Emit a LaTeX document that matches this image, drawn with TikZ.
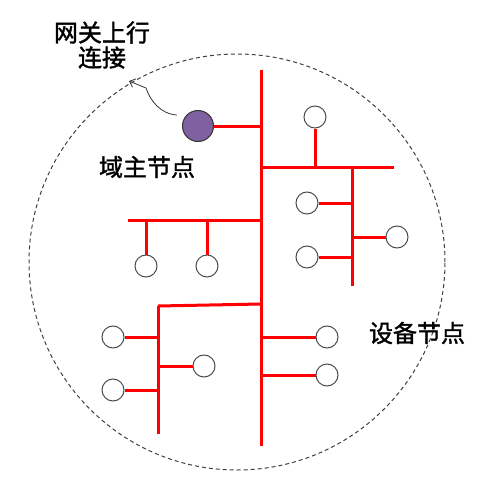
\documentclass[tikz,border=0pt]{standalone}
\usepackage{fontspec}
\newfontfamily\cjk[FakeBold=1.5]{Noto Sans CJK SC}
\usetikzlibrary{arrows.meta}
\definecolor{purp}{RGB}{127,96,160}
\begin{document}
\begin{tikzpicture}[x=1pt,y=-1pt,
  dev/.style={circle,draw=black!70,fill=white,line width=1pt,minimum size=22pt,inner sep=0pt},
  bus/.style={red,line width=3pt},
  lbl/.style={font=\cjk\fontsize{24}{25}\selectfont,align=center,inner sep=0pt}]
\useasboundingbox (0,0) rectangle (504,479);
\draw[black!75,line width=1pt,dash pattern=on 4pt off 3pt] (237,262) circle (208pt);
% nodes
\node[dev,fill=purp,draw=black!80,minimum size=31pt] (m) at (198,126) {};
\node[dev] (d1) at (315,117) {};
\node[dev] (d2) at (307,203) {};
\node[dev] (d3) at (397,237) {};
\node[dev] (d4) at (307,257) {};
\node[dev] (d5) at (146,266) {};
\node[dev] (d6) at (207,266) {};
\node[dev] (d7) at (113,337) {};
\node[dev] (d8) at (113,390) {};
\node[dev] (d9) at (204,366) {};
\node[dev] (d10) at (327,337) {};
\node[dev] (d11) at (327,375) {};
% junction coordinates
\coordinate (ttop) at (261,70);
\coordinate (tbot) at (261,446);
\coordinate (b1s) at (261,167);
\coordinate (b1e) at (394,167);
\coordinate (s1t) at (352,167);
\coordinate (s1b) at (352,286);
\coordinate (b2s) at (128,220);
\coordinate (b2e) at (261,220);
\coordinate (b3s) at (158,306);
\coordinate (b3e) at (261,304);
\coordinate (s3b) at (158,434);
% red tree
\draw[bus] (ttop) -- (tbot);
\draw[bus] (m) -- (ttop |- m);
\draw[bus] (b1s) -- (b1e);
\draw[bus] (d1) -- (d1 |- b1s);
\draw[bus] (s1t) -- (s1b);
\draw[bus] (d2) -- (s1t |- d2);
\draw[bus] (d3) -- (s1t |- d3);
\draw[bus] (d4) -- (s1t |- d4);
\draw[bus] (b2s) -- (b2e);
\draw[bus] (d5) -- (d5 |- b2s);
\draw[bus] (d6) -- (d6 |- b2s);
\draw[bus] (b3s) -- (b3e);
\draw[bus] (b3s) -- (s3b);
\draw[bus] (d7) -- (b3s |- d7);
\draw[bus] (d8) -- (b3s |- d8);
\draw[bus] (d9) -- (b3s |- d9);
\draw[bus] (d10) -- (ttop |- d10);
\draw[bus] (d11) -- (ttop |- d11);
% labels
\node[lbl] (gw) at (102,45) {网关上行\\连接};
\node[lbl] (ml) at (147,167) {域主节点};
\node[lbl] (dl) at (417,333) {设备节点};
% curved arrow
\coordinate (a0) at (177,115);
\coordinate (a1) at (129,81);
\draw[black!80,line width=0.8pt,-{Straight Barb[length=5pt,width=9pt]}]
  (a0) .. controls (160,114) and (150,100) .. (146,88) -- (a1);
\end{tikzpicture}
\end{document}
